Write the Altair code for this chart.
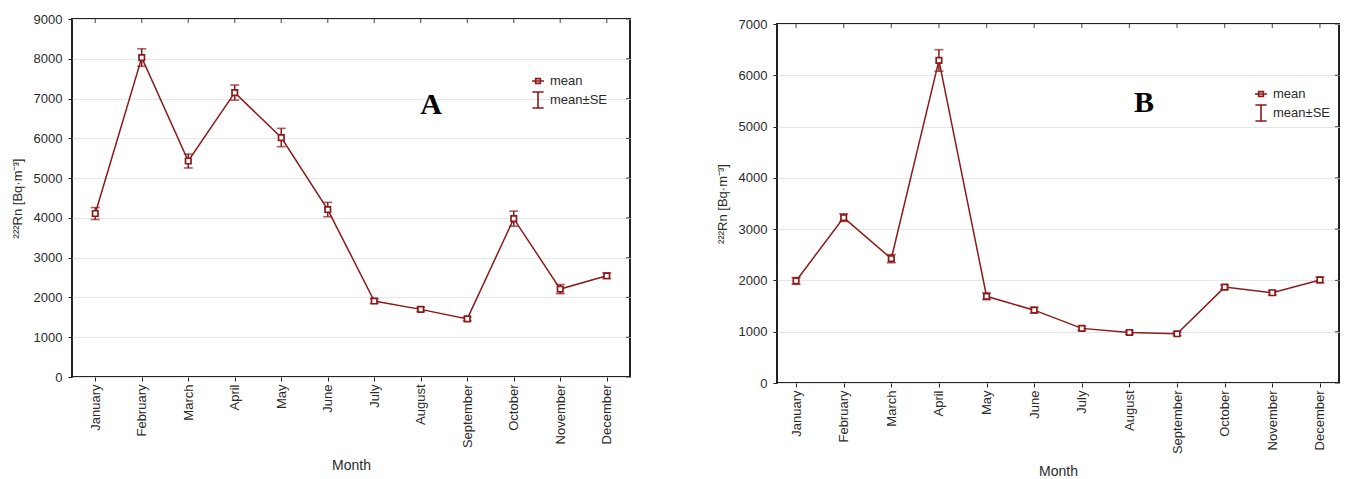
import altair as alt
import pandas as pd

months = ["January", "February", "March", "April", "May", "June", "July",
          "August", "September", "October", "November", "December"]

a_mean = [4110, 8030, 5430, 7150, 6020, 4210, 1910, 1700, 1460, 3980, 2210, 2545]
a_se = [150, 220, 175, 190, 230, 180, 60, 55, 50, 190, 115, 70]

b_mean = [1990, 3225, 2425, 6290, 1690, 1420, 1065, 985, 960, 1870, 1760, 2010]
b_se = [65, 75, 80, 210, 65, 55, 40, 35, 35, 40, 45, 55]

a_ticks = [0, 1000, 2000, 3000, 4000, 5000, 6000, 7000, 8000, 9000]
b_ticks = [0, 1000, 2000, 3000, 4000, 5000, 6000, 7000]

legend_keys = ["mean", "mean±SE"]

RED = "#8b1a1a"
FONT = "Liberation Sans"
TXT = "#2b2b2b"

P_MEAN = "M-0.75,0H0.75M-0.3,-0.3H0.3V0.3H-0.3Z"
P_SE = "M-0.7,-1H0.7M0,-1V1M-0.7,1H0.7"


def panel(mean, se, ymax, ticks, letter, w, h, letter_xy, legend_xy, xpad, tpad):
    df = pd.DataFrame({
        "Month": months,
        "mean": mean,
        "lo": [m - s for m, s in zip(mean, se)],
        "hi": [m + s for m, s in zip(mean, se)],
    })
    x_enc = alt.X("Month:N", sort=months, title="Month",
                  scale=alt.Scale(type="point", padding=xpad),
                  axis=alt.Axis(labelAngle=-90, grid=False, titlePadding=tpad,
                                titleFontSize=14, labelPadding=3))
    yscale = alt.Scale(domain=[0, ymax], nice=False, zero=True)
    yaxis = alt.Axis(values=ticks, format="d", grid=True, titlePadding=9,
                     labelPadding=6)
    ytitle = "²²²Rn [Bq·m⁻³]"

    base = alt.Chart(df)
    line = base.mark_line(color=RED, strokeWidth=1.5).encode(
        x=x_enc, y=alt.Y("mean:Q", scale=yscale, axis=yaxis, title=ytitle))
    rule = base.mark_rule(color=RED, strokeWidth=1.5).encode(
        x=x_enc, y=alt.Y("lo:Q", scale=yscale, axis=yaxis, title=ytitle), y2="hi:Q")
    cap_lo = base.mark_tick(color=RED, size=9, thickness=1.6, orient="horizontal").encode(
        x=x_enc, y=alt.Y("lo:Q", scale=yscale, axis=yaxis, title=ytitle))
    cap_hi = base.mark_tick(color=RED, size=9, thickness=1.6, orient="horizontal").encode(
        x=x_enc, y=alt.Y("hi:Q", scale=yscale, axis=yaxis, title=ytitle))
    pts = base.mark_point(shape="square", filled=True, fill="white", stroke=RED,
                          strokeWidth=1.7, size=30, opacity=1).encode(
        x=x_enc, y=alt.Y("mean:Q", scale=yscale, axis=yaxis, title=ytitle))

    top_ticks = base.mark_tick(orient="vertical", size=4, thickness=1.2,
                               color="#222222").encode(x=x_enc, y=alt.value(2))
    tdf = pd.DataFrame({"v": ticks})
    right_ticks = alt.Chart(tdf).mark_tick(orient="horizontal", size=4, thickness=1.2,
                                           color="#222222").encode(
        x=alt.value(w - 2), y=alt.Y("v:Q", scale=yscale, axis=yaxis, title=ytitle))

    lab = alt.Chart(pd.DataFrame({"t": [letter]})).mark_text(
        font="Liberation Serif", fontWeight="bold", fontSize=30, color="black",
        align="center", baseline="alphabetic").encode(
        x=alt.value(letter_xy[0]), y=alt.value(letter_xy[1]), text="t:N")

    leg = alt.Chart(pd.DataFrame({"k": legend_keys})).mark_point(
        opacity=0, color=RED, filled=False, strokeWidth=1.5).encode(
        shape=alt.Shape("k:N", scale=alt.Scale(domain=legend_keys, range=[P_MEAN, P_SE]),
                        legend=alt.Legend(title=None, orient="none",
                                          legendX=legend_xy[0], legendY=legend_xy[1],
                                          symbolSize=256, symbolStrokeColor=RED,
                                          symbolFillColor="transparent",
                                          symbolStrokeWidth=1.6, symbolOpacity=1,
                                          labelFont=FONT, labelFontSize=13,
                                          labelColor=TXT, rowPadding=0,
                                          labelOffset=3)))

    return alt.layer(line, rule, cap_lo, cap_hi, pts, top_ticks, right_ticks, lab, leg).properties(
        width=w, height=h)


chart_a = panel(a_mean, a_se, 9000, a_ticks, "A", 558, 358, (359, 95), (457, 53), 0.5, 11)
chart_b = panel(b_mean, b_se, 7000, b_ticks, "B", 562, 359, (367, 88), (475, 66), 0.4, 11)

spacer = alt.Chart(pd.DataFrame({"s": [0]})).mark_point(opacity=0).properties(
    width=10, height=5, view=alt.ViewBackground(stroke="white", strokeWidth=0))
right_col = alt.vconcat(spacer, chart_b, spacing=0, bounds="flush")

chart = alt.hconcat(chart_a, right_col, spacing=84).resolve_scale(
    x="independent", y="independent", shape="independent").resolve_legend(
    shape="independent").resolve_axis(x="independent", y="independent").properties(
    padding={"left": 2, "top": 4, "right": 0, "bottom": 0}).configure(
    background="white").configure_view(
    stroke="#222222", strokeWidth=2).configure_axis(
    labelFont=FONT, labelFontSize=13, labelColor=TXT, titleFont=FONT,
    titleFontSize=13, titleFontWeight="normal", titleColor=TXT, tickColor="#222222",
    tickSize=4, domain=False, gridColor="#e6e6e6", gridWidth=1)

chart.save("out.html", embed_options={"renderer": "svg", "actions": False})
